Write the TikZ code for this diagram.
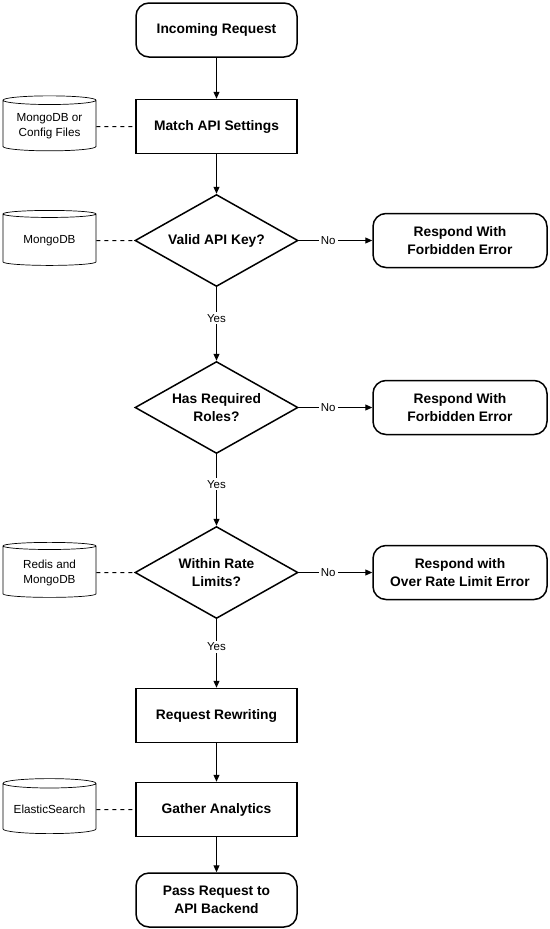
\documentclass[tikz,border=0pt]{standalone}
\usepackage{fontspec}
\setmainfont{Liberation Sans}
\usetikzlibrary{shapes.geometric}
\usetikzlibrary{arrows.meta}

\begin{document}
\begin{tikzpicture}[x=1pt, y=-1pt,
  step box/.style={draw, line width=1.5pt, minimum width=161pt, minimum height=54pt, align=center, font=\fontsize{13.8}{18}\selectfont\bfseries},
  end box/.style={step box, rounded corners=13pt},
  test/.style={draw, diamond, aspect=1.8, line width=1.5pt, minimum width=163pt, minimum height=92pt, inner sep=0pt, align=center, font=\fontsize{13.8}{18}\selectfont\bfseries},
  store/.style={draw, cylinder, shape border rotate=90, aspect=0.12, minimum width=93pt, minimum height=55pt, line width=0.7pt, align=center, font=\fontsize{11.7}{15}\selectfont},
  flow/.style={-{Triangle[length=7pt, width=6pt]}, line width=1pt},
  link/.style={dash pattern=on 4pt off 4pt, line width=1pt},
  answer/.style={fill=white, inner sep=2pt, font=\fontsize{11.5}{13}\selectfont}]

\useasboundingbox (0,0) rectangle (549,929);

\node[end box] (start) at (216.5, 30) {Incoming Request};
\node[step box] (match) at (216.5, 126.5) {Match API Settings};
\node[test] (key) at (216.5, 240.5) {Valid API Key?};
\node[test] (roles) at (216.5, 407.5) {Has Required\\Roles?};
\node[test] (rate) at (216.5, 572.5) {Within Rate\\Limits?};
\node[step box] (rewrite) at (216.5, 715.5) {Request Rewriting};
\node[step box] (analytics) at (216.5, 809.5) {Gather Analytics};
\node[end box] (pass) at (216.5, 900) {Pass Request to\\API Backend};

\node[end box, minimum width=174pt] (deny1) at (460, 240.5) {Respond With\\Forbidden Error};
\node[end box, minimum width=174pt] (deny2) at (460, 407.5) {Respond With\\Forbidden Error};
\node[end box, minimum width=174pt] (over) at (460, 572.5) {Respond with\\Over Rate Limit Error};

\node[store] (config) at (49.5, 126.5) {MongoDB or\\Config Files};
\node[store] (mongo) at (49.5, 240.5) {MongoDB};
\node[store] (redis) at (49.5, 572.5) {Redis and\\MongoDB};
\node[store] (elastic) at (49.5, 809.5) {ElasticSearch};

\draw[flow] (start) -- (match);
\draw[flow] (match) -- (key);
\draw[flow] (key) -- node[answer, pos=0.42] {Yes} (roles);
\draw[flow] (roles) -- node[answer, pos=0.42] {Yes} (rate);
\draw[flow] (rate) -- node[answer, pos=0.4] {Yes} (rewrite);
\draw[flow] (rewrite) -- (analytics);
\draw[flow] (analytics) -- (pass);

\draw[flow] (key) -- node[answer, pos=0.4] {No} (deny1);
\draw[flow] (roles) -- node[answer, pos=0.4] {No} (deny2);
\draw[flow] (rate) -- node[answer, pos=0.4] {No} (over);

\draw[link] (config) -- (match);
\draw[link] (mongo) -- (key);
\draw[link] (redis) -- (rate);
\draw[link] (elastic) -- (analytics);

\end{tikzpicture}
\end{document}
